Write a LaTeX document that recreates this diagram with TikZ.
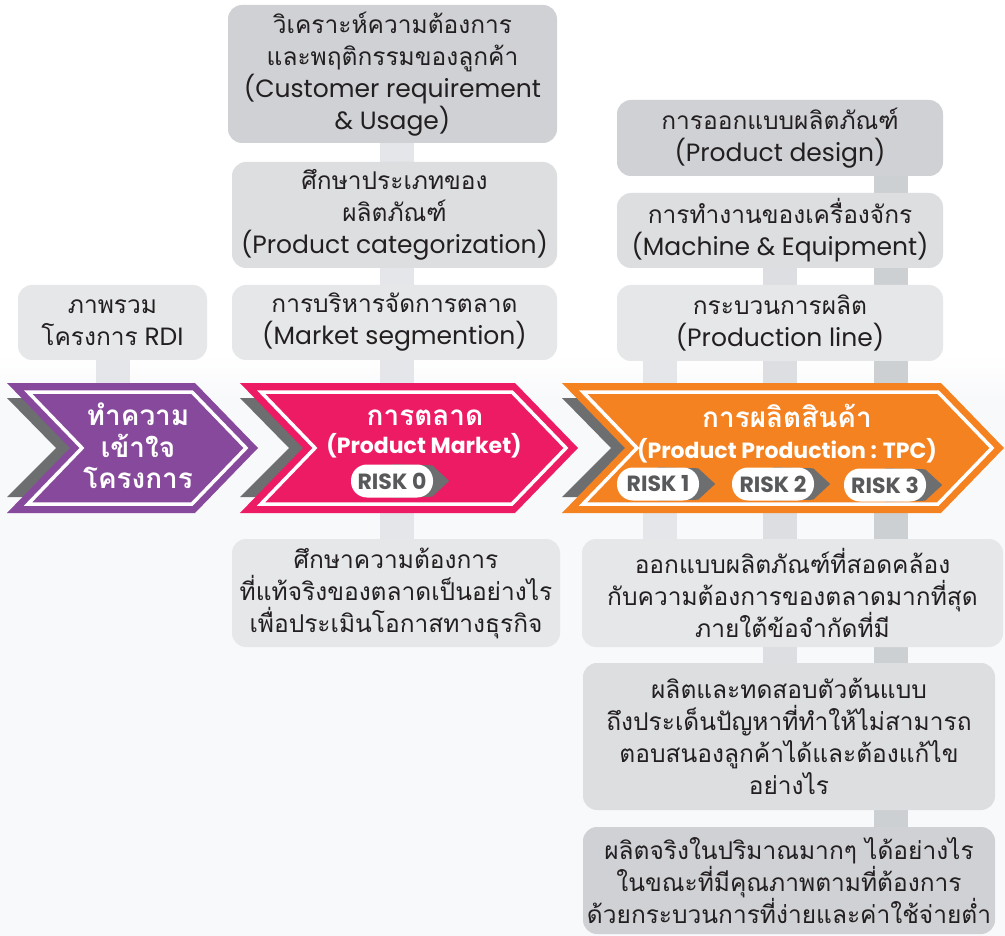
\documentclass[tikz,border=0pt]{standalone}
\usepackage{fontspec}
\setmainfont{Poppins}
\newfontfamily\thaifont[Script=Thai,Scale=0.98]{Loma}
\usetikzlibrary{calc}
\pgfdeclarelayer{back}
\pgfdeclarelayer{bars}
\pgfdeclarelayer{front}
\pgfsetlayers{back,bars,main,front}

\definecolor{ink}{RGB}{35,31,32}
\definecolor{paper}{RGB}{248,249,251}
\definecolor{purp}{RGB}{135,73,155}
\definecolor{pinkc}{RGB}{236,27,100}
\definecolor{orng}{RGB}{245,130,32}
\definecolor{shadowc}{RGB}{109,110,112}
\definecolor{risktxt}{RGB}{88,89,91}
\definecolor{boxlight}{RGB}{229,231,233}
\definecolor{boxmid}{RGB}{220,222,224}
\definecolor{boxdark}{RGB}{207,209,212}
\definecolor{barlight}{RGB}{228,230,233}
\definecolor{barmid}{RGB}{220,222,225}
\definecolor{bardark}{RGB}{205,208,211}

\newcommand\tf[1]{{\thaifont #1}}

% stage arrow: #1 left x, #2 x of top-right corner, #3 colour
\newcommand\stagearrow[3]{%
  \fill[shadowc] (#1,398) -- (#1+49,448) -- (#1,497) -- (#1+30,497) -- (#1+79,448) -- (#1+30,398) -- cycle;
  \fill[#3] (#1,383) -- (#2,383) -- (#2+63,448) -- (#2,513) -- (#1,513) -- (#1+63,448) -- cycle;
  \draw[white, line width=3.5pt, line join=miter]
    (#1+21,392) -- (#2-3,392) -- (#2+51,448) -- (#2-3,504) -- (#1+21,504) -- (#1+75,448) -- cycle;
}

\tikzset{
  box/.style={rounded corners=14pt, inner sep=0pt, align=center, text=ink,
              font=\fontsize{25}{32}\selectfont},
  boxA/.style={box, fill=boxlight},
  boxB/.style={box, fill=boxmid},
  boxC/.style={box, fill=boxdark},
  bar/.style={line width=34pt, line cap=butt},
  pill/.style={fill=white, rounded corners=16pt, minimum width=82pt, minimum height=33pt,
               inner sep=0pt, text=risktxt, font=\fontsize{22}{22}\selectfont\bfseries},
  tag/.style={fill=shadowc},
  headth/.style={text=white, anchor=base, inner sep=0pt, font=\fontsize{28.5}{28.5}\selectfont\bfseries},
  headen/.style={text=white, anchor=base, inner sep=0pt, font=\fontsize{22}{22}\selectfont\bfseries},
}

\begin{document}
\begin{tikzpicture}[x=1pt, y=-1pt]
\useasboundingbox (0,0) rectangle (1005,936);

% page background
\begin{pgfonlayer}{back}
  \fill[white] (0,0) rectangle (1005,936);
  \shade[top color=white, bottom color=paper] (0,355) rectangle (1005,400);
  \fill[paper] (0,400) rectangle (1005,936);
\end{pgfonlayer}

% x positions of the vertical bars
\coordinate (xl) at (113,0);
\coordinate (xm) at (397,0);
\coordinate (xp1) at (660,0);
\coordinate (xp2) at (780,0);
\coordinate (xp3) at (891,0);
\coordinate (ptop) at (113,400);

% boxes above the arrows
\node[boxA, minimum width=189, minimum height=75] (L1) at (112.5,322.5)
  {\tf{ภาพรวม}\\\tf{โครงการ} RDI};

\node[boxC, minimum width=329, minimum height=138] (M1) at (392.5,74)
  {\tf{วิเคราะห์ความต้องการ}\\\tf{และพฤติกรรมของลูกค้า}\\(Customer requirement\\\& Usage)};
\node[boxB, minimum width=325, minimum height=106] (M2) at (394.5,215)
  {\tf{ศึกษาประเภทของ}\\\tf{ผลิตภัณฑ์}\\(Product categorization)};
\node[boxA, minimum width=325, minimum height=75] (M3) at (394.5,322.5)
  {\tf{การบริหารจัดการตลาด}\\(Market segmention)};

\node[boxC, minimum width=326, minimum height=76] (P1) at (780,138)
  {\tf{การออกแบบผลิตภัณฑ์}\\(Product design)};
\node[boxB, minimum width=326, minimum height=75] (P2) at (780,230.5)
  {\tf{การทำงานของเครื่องจักร}\\(Machine \& Equipment)};
\node[boxA, minimum width=326, minimum height=76] (P3) at (780,323)
  {\tf{กระบวนการผลิต}\\(Production line)};

% boxes below the arrows
\node[boxA, minimum width=328, minimum height=108] (M4) at (396,593)
  {\tf{ศึกษาความต้องการ}\\\tf{ที่แท้จริงของตลาดเป็นอย่างไร}\\\tf{เพื่อประเมินโอกาสทางธุรกิจ}};

\node[boxA, minimum width=421, minimum height=108] (P4) at (792.5,593)
  {\tf{ออกแบบผลิตภัณฑ์ที่สอดคล้อง}\\\tf{กับความต้องการของตลาดมากที่สุด}\\\tf{ภายใต้ข้อจำกัดที่มี}};
\node[boxB, minimum width=412, minimum height=147] (P5) at (789,736.5)
  {\tf{ผลิตและทดสอบตัวต้นแบบ}\\\tf{ถึงประเด็นปัญหาที่ทำให้ไม่สามารถ}\\\tf{ตอบสนองลูกค้าได้และต้องแก้ไข}\\\tf{อย่างไร}};
\node[boxC, minimum width=412, minimum height=107] (P6) at (789,880.5)
  {\tf{ผลิตจริงในปริมาณมากๆ ได้อย่างไร}\\\tf{ในขณะที่มีคุณภาพตามที่ต้องการ}\\\tf{ด้วยกระบวนการที่ง่ายและค่าใช้จ่ายต่ำ}};

% vertical bars behind boxes and arrows
\begin{pgfonlayer}{bars}
  \draw[bar, draw=barlight] (L1.south -| xl) -- (ptop);
  \draw[bar, draw=barlight] (M1.south -| xm) -- (M2.north -| xm);
  \draw[bar, draw=barlight] (M2.south -| xm) -- (M3.north -| xm);
  \draw[bar, draw=barlight] (M3.south -| xm) -- (M4.north -| xm);
  \draw[bar, draw=barlight] (P3.south -| xp1) -- (P4.north -| xp1);
  \draw[bar, draw=barmid]   (P2.south -| xp2) -- (P5.north -| xp2);
  \draw[bar, draw=bardark]  (P1.south -| xp3) -- (P6.north -| xp3);
\end{pgfonlayer}

% stage arrows
\stagearrow{7}{195}{purp}
\stagearrow{240}{515}{pinkc}
\stagearrow{562}{941}{orng}

% stage titles
\node[headth] (s1a) at (138,425) {\tf{ทำความ}};
\node[headth] (s1b) at (138,457) {\tf{เข้าใจ}};
\node[headth] (s1c) at (138,488) {\tf{โครงการ}};

\node[headth] (s2a) at (425,425) {\tf{การตลาด}};
\node[headen] (s2b) at (424,453) {(Product Market)};

\node[headth] (s3a) at (787,427) {\tf{การผลิตสินค้า}};
\node[headen] (s3b) at (787,458) {(Product Production : TPC)};

% risk tags
\begin{pgfonlayer}{front}
  \node[pill] (r0) at (392,481) {RISK 0};
  \node[pill] (r1) at (658,484) {RISK 1};
  \node[pill] (r2) at (773,484) {RISK 2};
  \node[pill] (r3) at (885,485) {RISK 3};
\end{pgfonlayer}
\foreach \r in {r0,r1,r2,r3}{
  \fill[tag] (\r.north) -- ($(\r.north east)+(-1,1)$) -- ($(\r.east)+(16,0)$)
    -- ($(\r.south east)+(-1,-1)$) -- (\r.south) -- cycle;
}
\end{tikzpicture}
\end{document}
